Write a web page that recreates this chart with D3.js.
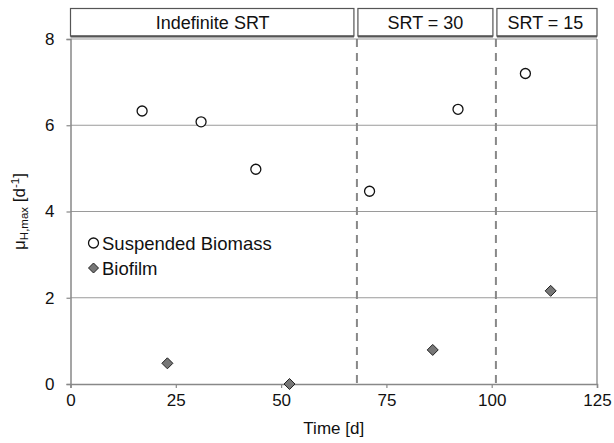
<!DOCTYPE html>
<html><head><meta charset="utf-8">
<script src="https://cdn.jsdelivr.net/npm/d3@7"></script>
<style>body{margin:0;background:#fff}svg{display:block}text{font-family:"Liberation Sans",Arial,sans-serif;fill:#111}</style>
</head><body><svg id="c" width="614" height="443"></svg>
<script>
const suspendedDays = [17, 31, 44, 71, 92, 108];
const suspendedMu = [6.33, 6.08, 4.98, 4.47, 6.37, 7.2];
const biofilmDays = [23, 52, 86, 114];
const biofilmMu = [0.48, 0.0, 0.79, 2.16];
const phaseBounds = [0, 68, 101, 125];
const phaseLabels = ["Indefinite SRT", "SRT = 30", "SRT = 15"];
const xTicks = [0, 25, 50, 75, 100, 125];
const yTicks = [0, 2, 4, 6, 8];
const legendLabels = ["Suspended Biomass", "Biofilm"];

const svg = d3.select("#c");
const x = d3.scaleLinear().domain([0, 125]).range([70.5, 597]);
const y = d3.scaleLinear().domain([0, 8]).range([384, 39]);

// gridlines
svg.append("g").selectAll("line").data(yTicks.filter(d => d > 0)).join("line")
  .attr("x1", x(0)).attr("x2", x(125)).attr("y1", d => y(d)).attr("y2", d => y(d))
  .attr("stroke", "#9a9a9a").attr("stroke-width", 1.2);
// right border
svg.append("line").attr("x1", x(125)).attr("x2", x(125)).attr("y1", y(8)).attr("y2", y(0))
  .attr("stroke", "#888").attr("stroke-width", 1.3);

// axes
const xAxis = svg.append("g").attr("transform", `translate(0,${y(0)})`)
  .call(d3.axisBottom(x).tickValues(xTicks).tickSize(4).tickPadding(6));
const yAxis = svg.append("g").attr("transform", `translate(${x(0)},0)`)
  .call(d3.axisLeft(y).tickValues(yTicks).tickSize(4).tickPadding(12));
[xAxis, yAxis].forEach(g => {
  g.select(".domain").attr("stroke", "#888").attr("stroke-width", 1.5);
  g.selectAll(".tick line").attr("stroke", "#888").attr("stroke-width", 1.2);
  g.selectAll(".tick text").attr("font-size", 17).attr("fill", "#111")
    .attr("font-family", '"Liberation Sans",Arial,sans-serif');
});

// phase dashed lines
svg.append("g").selectAll("line").data(phaseBounds.slice(1, -1)).join("line")
  .attr("x1", d => x(d)).attr("x2", d => x(d)).attr("y1", y(8)).attr("y2", y(0))
  .attr("stroke", "#888").attr("stroke-width", 2).attr("stroke-dasharray", "8,6");

// phase label boxes
const phases = phaseLabels.map((l, i) => ({l, a: phaseBounds[i], b: phaseBounds[i + 1], i}));
const pg = svg.append("g").selectAll("g").data(phases).join("g");
pg.append("rect")
  .attr("x", d => d.i === 0 ? x(d.a) : x(d.a) + 1)
  .attr("width", d => (d.i === 0 ? x(d.b) - x(d.a) - 3 : d.i === phases.length - 1 ? x(d.b) - x(d.a) - 1 : x(d.b) - x(d.a) - 4))
  .attr("y", 8.5).attr("height", 27.5)
  .attr("fill", "#fff").attr("stroke", "#555").attr("stroke-width", 1.2);
pg.append("line")
  .attr("x1", d => d.i === 0 ? x(d.a) : x(d.a) + 1)
  .attr("x2", d => d.i === 0 ? x(d.b) - 3 : d.i === phases.length - 1 ? x(d.b) : x(d.b) - 3)
  .attr("y1", 36.5).attr("y2", 36.5).attr("stroke", "#555").attr("stroke-width", 2);
pg.append("text")
  .attr("x", d => (x(d.a) + x(d.b)) / 2 - 1).attr("y", 28.5)
  .attr("text-anchor", "middle").attr("font-size", 18).text(d => d.l);

// biofilm diamonds
const diamond = s => `M0,${-s}L${s},0L0,${s}L${-s},0Z`;
svg.append("g").selectAll("path").data(biofilmDays.map((d, i) => [d, biofilmMu[i]])).join("path")
  .attr("transform", d => `translate(${x(d[0])},${y(d[1])})`)
  .attr("d", diamond(5.5)).attr("fill", "#777").attr("stroke", "#222").attr("stroke-width", 1);

// suspended circles
svg.append("g").selectAll("circle").data(suspendedDays.map((d, i) => [d, suspendedMu[i]])).join("circle")
  .attr("cx", d => x(d[0])).attr("cy", d => y(d[1])).attr("r", 5)
  .attr("fill", "#fff").attr("stroke", "#111").attr("stroke-width", 1.3);

// legend
const lg = svg.append("g");
lg.append("circle").attr("cx", 93.5).attr("cy", 243).attr("r", 5)
  .attr("fill", "#fff").attr("stroke", "#111").attr("stroke-width", 1.3);
lg.append("text").attr("x", 102).attr("y", 249.5).attr("font-size", 18.5).text(legendLabels[0]);
lg.append("path").attr("transform", "translate(93.5,268)").attr("d", diamond(5))
  .attr("fill", "#777").attr("stroke", "#222").attr("stroke-width", 1);
lg.append("text").attr("x", 102).attr("y", 274.5).attr("font-size", 18.5).text(legendLabels[1]);

// axis titles
svg.append("text").attr("x", (x(0) + x(125)) / 2).attr("y", 434).attr("text-anchor", "middle")
  .attr("font-size", 17).text("Time [d]");
const yt = svg.append("text").attr("transform", `translate(25,${(y(0) + y(8)) / 2}) rotate(-90)`)
  .attr("text-anchor", "middle").attr("font-size", 17);
yt.append("tspan").text("μ");
yt.append("tspan").attr("font-size", 11.5).attr("dy", 3).text("H,max");
yt.append("tspan").attr("dy", -3).text(" [d");
yt.append("tspan").attr("font-size", 11.5).attr("dy", -6).text("-1");
yt.append("tspan").attr("dy", 6).text("]");
</script></body></html>
